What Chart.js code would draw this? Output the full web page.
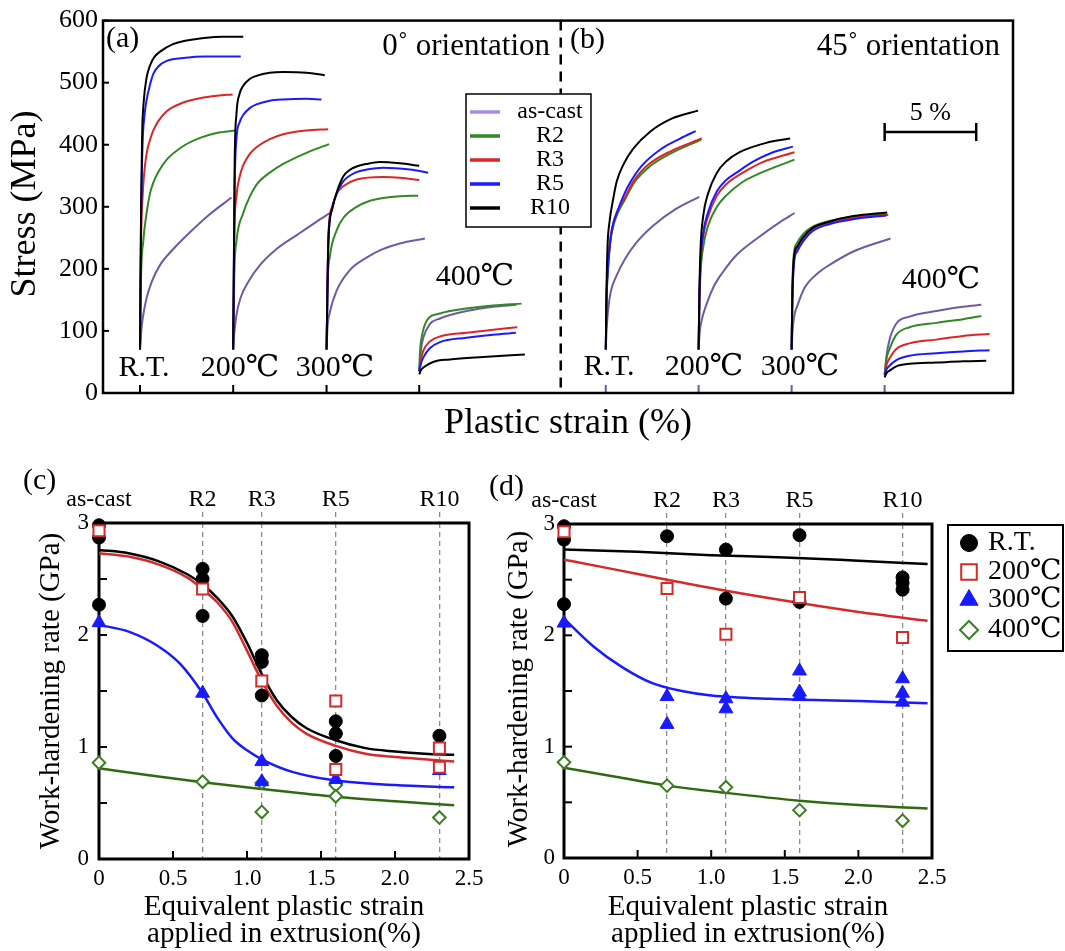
<!DOCTYPE html>
<html><head><meta charset="utf-8">
<script src="https://cdn.jsdelivr.net/npm/chart.js@4.4.0/dist/chart.umd.min.js"></script>
<style>
html,body{margin:0;padding:0;background:#fff;}
body{width:1065px;height:951px;position:relative;overflow:hidden;}
canvas{position:absolute;}
</style></head><body>
<canvas id="top" width="1065" height="450" style="left:0;top:0"></canvas>
<canvas id="cpanel" width="490" height="491" style="left:0;top:460px"></canvas>
<canvas id="dpanel" width="585" height="491" style="left:480px;top:460px"></canvas>
<script>
const SERIF = '"Liberation Serif","DejaVu Serif","Noto Sans CJK JP",serif';

// ---------- top panel (a)/(b): stress-strain ----------
const materials = ['as-cast','R2','R3','R5','R10'];
const tempLabels = ['R.T.','200℃','300℃','400℃'];
const orientationLabels = ['0˚ orientation','45˚ orientation'];
const panelLabelsTop = ['(a)','(b)'];
const segOffset0 = [2.02, 7.11, 12.21, 17.27];
const segOffset45 = [27.46, 32.53, 37.61, 42.69];
const separatorStrain = [25.0];
const scaleBarStrain = [42.69, 47.69];
const scaleBarLabel = '5 %';

// (a) 0° orientation  [strain %, stress MPa]
const a_RT_asCast = [[0,70],[0.04,84],[0.07,100],[0.18,126],[0.36,153],[0.64,179],[1.09,206],[1.82,232],[2.73,259],[3.73,286],[5.0,315]];
const a_RT_R2 = [[0,70],[0.05,180],[0.18,245],[0.36,290],[0.55,322],[0.73,339],[1.0,356],[1.46,376],[2.37,398],[3.28,411],[4.18,419],[5.22,423]];
const a_RT_R3 = [[0,70],[0.05,230],[0.15,320],[0.36,385],[0.55,408],[0.73,423],[1.0,438],[1.46,454],[2.37,468],[3.28,475],[4.2,479],[5.06,481]];
const a_RT_R5 = [[0,70],[0.06,280],[0.14,400],[0.25,448],[0.36,472],[0.55,497],[0.73,514],[1.0,526],[1.46,535],[2.5,540],[3.5,542],[5.5,542]];
const a_RT_R10 = [[0,70],[0.06,300],[0.12,420],[0.2,468],[0.36,508],[0.55,528],[0.8,542],[1.1,550],[1.8,562],[2.4,567],[3.5,572],[4.5,574],[5.64,574]];

const a_200_asCast = [[0,70],[0.04,90],[0.18,126],[0.4,153],[0.82,179],[1.46,206],[2.37,232],[3.55,256],[4.5,275],[5.28,290]];
const a_200_R2 = [[0,70],[0.06,190],[0.18,245],[0.55,290],[0.9,316],[1.36,339],[2.0,355],[2.73,369],[4.0,387],[5.24,401]];
const a_200_R3 = [[0,70],[0.06,250],[0.18,318],[0.35,348],[0.55,367],[0.9,385],[1.27,396],[2.0,409],[2.73,417],[4.0,423],[5.19,425]];
const a_200_R5 = [[0,70],[0.08,330],[0.18,410],[0.35,436],[0.55,448],[0.9,459],[1.27,465],[2.0,471],[2.73,473],[4.0,474],[4.82,473]];
const a_200_R10 = [[0,70],[0.08,370],[0.18,450],[0.35,482],[0.55,495],[0.9,506],[1.27,511],[2.0,516],[2.73,517],[4.0,516],[5.0,512]];

const a_300_asCast = [[0,70],[0.05,105],[0.18,130],[0.55,165],[1.27,198],[2.18,218],[3.0,231],[4.0,241],[5.37,249]];
const a_300_R2 = [[0,70],[0.05,170],[0.18,220],[0.55,262],[0.91,282],[1.64,300],[2.3,309],[3.09,314],[4.0,317],[5.0,318]];
const a_300_R3 = [[0,70],[0.1,255],[0.3,300],[0.55,321],[0.91,333],[1.64,344],[3.09,348],[4.0,347],[5.06,343]];
const a_300_R5 = [[0,70],[0.1,245],[0.3,296],[0.55,321],[0.91,341],[1.64,356],[2.2,360],[3.09,363],[4.55,360],[5.55,355]];
const a_300_R10 = [[0,70],[0.1,245],[0.3,296],[0.55,323],[0.91,349],[1.3,360],[1.64,365],[2.18,369],[2.9,372],[4.0,370],[5.06,366]];

const a_400_asCast = [[0,35],[0.1,70],[0.22,89],[0.58,111],[1.13,120],[2.58,132],[4.04,139],[5.31,142]];
const a_400_R2 = [[0,35],[0.05,70],[0.13,89],[0.4,116],[1.13,128],[2.58,136],[4.04,141],[5.59,144]];
const a_400_R3 = [[0,35],[0.1,55],[0.22,68],[0.58,83],[1.13,91],[2.58,97],[4.04,102],[5.35,106]];
const a_400_R5 = [[0,35],[0.1,48],[0.22,57],[0.58,72],[1.13,82],[2.58,89],[4.04,94],[5.28,97]];
const a_400_R10 = [[0,30],[0.1,37],[0.22,41],[0.76,50],[1.67,54],[3.49,58],[5.77,62]];

// (b) 45° orientation
const b_RT_asCast = [[0,72],[0.05,105],[0.14,137],[0.27,163],[0.6,190],[1.05,216],[1.69,243],[2.6,270],[3.79,296],[5.1,316]];
const b_RT_R2 = [[0,70],[0.04,145],[0.1,192],[0.24,242],[0.5,278],[1.07,313],[1.55,339],[2.4,365],[3.55,386],[5.2,408]];
const b_RT_R3 = [[0,70],[0.04,155],[0.1,200],[0.24,248],[0.5,283],[1.05,315],[1.51,341],[2.33,368],[3.51,389],[5.24,410]];
const b_RT_R5 = [[0,70],[0.04,150],[0.1,190],[0.24,243],[0.38,270],[0.64,293],[1.0,320],[1.33,339],[1.96,366],[3.06,394],[4.06,410],[4.91,422]];
const b_RT_R10 = [[0,70],[0.04,170],[0.1,240],[0.2,275],[0.42,315],[0.6,341],[0.96,368],[1.51,394],[2.42,421],[3.6,442],[5.04,455]];

const b_200_asCast = [[0,70],[0.05,95],[0.15,115],[0.42,142],[0.8,170],[1.33,195],[2.06,222],[3.15,248],[4.42,275],[5.24,290]];
const b_200_R2 = [[0,70],[0.04,135],[0.1,190],[0.25,235],[0.5,268],[1.0,300],[1.5,318],[2.4,340],[3.42,355],[5.24,376]];
const b_200_R3 = [[0,70],[0.04,145],[0.1,205],[0.25,252],[0.5,283],[1.0,318],[1.5,336],[2.42,355],[3.5,372],[5.24,388]];
const b_200_R5 = [[0,70],[0.04,150],[0.1,210],[0.25,258],[0.5,290],[1.0,325],[1.5,343],[2.07,355],[3.0,373],[4.0,387],[5.15,397]];
const b_200_R10 = [[0,70],[0.04,160],[0.1,230],[0.25,285],[0.5,320],[1.0,355],[1.5,373],[2.24,388],[3.69,403],[5.0,410]];

const b_300_asCast = [[0,70],[0.05,100],[0.15,125],[0.33,142],[0.7,169],[1.51,195],[2.05,206],[3.37,228],[5.4,249]];
const b_300_R2 = [[0,70],[0.04,170],[0.14,228],[0.3,242],[0.6,255],[1.15,268],[2.05,277],[3.37,284],[5.18,288]];
const b_300_R3 = [[0,70],[0.04,155],[0.14,218],[0.3,233],[0.6,247],[1.15,264],[2.05,274],[3.37,282],[5.28,287]];
const b_300_R5 = [[0,70],[0.04,150],[0.14,212],[0.3,228],[0.6,243],[1.15,261],[2.05,272],[3.37,280],[5.18,286]];
const b_300_R10 = [[0,70],[0.04,160],[0.14,222],[0.3,236],[0.6,250],[1.15,266],[2.05,276],[3.37,285],[5.22,291]];

const b_400_asCast = [[0,30],[0.1,60],[0.27,86],[0.64,112],[1.36,123],[2.82,132],[4.28,139],[5.28,142]];
const b_400_R2 = [[0,30],[0.1,55],[0.27,71],[0.64,94],[1.36,106],[2.82,113],[4.28,119],[5.28,124]];
const b_400_R3 = [[0,30],[0.1,45],[0.27,56],[0.64,71],[1.36,80],[2.82,86],[4.28,92],[5.73,95]];
const b_400_R5 = [[0,28],[0.1,38],[0.27,44],[0.64,53],[1.36,60],[2.82,64],[4.28,67],[5.73,69]];
const b_400_R10 = [[0,25],[0.1,32],[0.27,36],[0.64,43],[1.36,47],[2.82,49],[4.28,51],[5.55,52]];

// ---------- bottom panels (c)/(d): work-hardening rate ----------
const extrusionStrain = [0, 0.7, 1.1, 1.6, 2.3];
const extrusionLabels = ['as-cast','R2','R3','R5','R10'];
const strainTickLabels = ['0','0.5','1.0','1.5','2.0','2.5'];
const rateTickLabels = ['0','1','2','3'];
const hardTemps = ['R.T.','200℃','300℃','400℃'];

const c_RT = [[0,2.98],[0,2.87],[0,2.27],[0.7,2.59],[0.7,2.50],[0.7,2.17],[1.1,1.82],[1.1,1.76],[1.1,1.46],[1.6,1.23],[1.6,1.12],[1.6,0.92],[2.3,1.10]];
const c_200 = [[0,2.93],[0.7,2.41],[1.1,1.59],[1.6,1.41],[1.6,0.80],[2.3,0.99],[2.3,0.82]];
const c_300 = [[0,2.11],[0.7,1.48],[1.1,0.87],[1.1,0.69],[1.6,1.15],[1.6,0.71],[2.3,0.79]];
const c_400 = [[0,0.86],[0.7,0.69],[1.1,0.68],[1.1,0.42],[1.6,0.66],[1.6,0.56],[2.3,0.37]];
const c_fitRT = [[0,2.76],[0.2,2.73],[0.4,2.66],[0.6,2.54],[0.7,2.45],[0.8,2.33],[0.9,2.17],[1.0,1.93],[1.1,1.65],[1.2,1.42],[1.3,1.27],[1.4,1.17],[1.6,1.06],[1.8,0.99],[2.0,0.96],[2.2,0.94],[2.4,0.93]];
const c_fit200 = [[0,2.73],[0.2,2.70],[0.4,2.63],[0.6,2.51],[0.7,2.41],[0.8,2.29],[0.9,2.12],[1.0,1.86],[1.1,1.59],[1.2,1.37],[1.3,1.22],[1.4,1.12],[1.6,1.01],[1.8,0.94],[2.0,0.91],[2.2,0.89],[2.4,0.87]];
const c_fit300 = [[0,2.09],[0.2,2.03],[0.4,1.90],[0.55,1.74],[0.7,1.48],[0.8,1.26],[0.9,1.08],[1.0,0.97],[1.1,0.89],[1.3,0.78],[1.6,0.70],[2.0,0.66],[2.4,0.64]];
const c_fit400 = [[0,0.81],[0.35,0.745],[0.7,0.685],[1.1,0.625],[1.6,0.555],[2.0,0.515],[2.4,0.48]];

const d_RT = [[0,2.98],[0,2.86],[0,2.28],[0.7,2.89],[1.1,2.77],[1.1,2.33],[1.6,2.90],[1.6,2.30],[2.3,2.52],[2.3,2.47],[2.3,2.41]];
const d_200 = [[0,2.93],[0.7,2.42],[1.1,2.01],[1.6,2.34],[2.3,1.98]];
const d_300 = [[0,2.11],[0.7,1.45],[0.7,1.20],[1.1,1.43],[1.1,1.34],[1.6,1.68],[1.6,1.49],[1.6,1.45],[2.3,1.61],[2.3,1.48],[2.3,1.40]];
const d_400 = [[0,0.86],[0.7,0.65],[1.1,0.635],[1.6,0.43],[2.3,0.335]];
const d_fitRT = [[0,2.77],[0.5,2.75],[1.0,2.72],[1.5,2.70],[2.0,2.67],[2.47,2.64]];
const d_fit200 = [[0,2.68],[0.35,2.59],[0.7,2.50],[1.1,2.40],[1.6,2.29],[2.0,2.21],[2.47,2.13]];
const d_fit300 = [[0,2.15],[0.2,1.90],[0.4,1.71],[0.6,1.57],[0.8,1.50],[1.0,1.46],[1.4,1.43],[2.0,1.41],[2.47,1.39]];
const d_fit400 = [[0,0.81],[0.35,0.73],[0.7,0.65],[1.1,0.585],[1.6,0.515],[2.0,0.475],[2.47,0.445]];

// ---------- styles ----------
const matColors = ['#6e5aa8','#2f8a22','#dc2626','#1a1aff','#000000'];
const matLegendColors = ['#a98be6','#2f8a22','#dc2626','#1a1aff','#000000'];

function txt(ctx, s, x, y, size, align, baseline) {
  ctx.font = size + 'px ' + SERIF;
  ctx.fillStyle = '#000';
  ctx.textAlign = align || 'center';
  ctx.textBaseline = baseline || 'middle';
  ctx.fillText(s, x, y);
}

function segDatasets(groups, offsets) {
  const out = [];
  groups.forEach((grp, t) => grp.forEach((pts, m) => out.push({
    type: 'line',
    label: materials[m] + ' ' + tempLabels[t],
    data: pts.map(p => ({x: offsets[t] + p[0], y: p[1]})),
    borderColor: matColors[m], borderWidth: 2, pointRadius: 0, fill: false,
    cubicInterpolationMode: 'monotone', order: 4 - m
  })));
  return out;
}

const groups0 = [
  [a_RT_asCast, a_RT_R2, a_RT_R3, a_RT_R5, a_RT_R10],
  [a_200_asCast, a_200_R2, a_200_R3, a_200_R5, a_200_R10],
  [a_300_asCast, a_300_R2, a_300_R3, a_300_R5, a_300_R10],
  [a_400_asCast, a_400_R2, a_400_R3, a_400_R5, a_400_R10]
];
const groups45 = [
  [b_RT_asCast, b_RT_R2, b_RT_R3, b_RT_R5, b_RT_R10],
  [b_200_asCast, b_200_R2, b_200_R3, b_200_R5, b_200_R10],
  [b_300_asCast, b_300_R2, b_300_R3, b_300_R5, b_300_R10],
  [b_400_asCast, b_400_R2, b_400_R3, b_400_R5, b_400_R10]
];

const topDecor = {
  id: 'topDecor',
  afterDraw(chart) {
    const ctx = chart.ctx, a = chart.chartArea, xs = chart.scales.x, ys = chart.scales.y;
    ctx.save();
    const sx = xs.getPixelForValue(separatorStrain[0]);
    ctx.strokeStyle = '#000'; ctx.lineWidth = 2.5; ctx.setLineDash([10, 7]);
    ctx.beginPath(); ctx.moveTo(sx, a.top); ctx.lineTo(sx, a.bottom); ctx.stroke();
    ctx.setLineDash([]);
    ctx.lineWidth = 2;
    ys.ticks.forEach(t => {
      const py = ys.getPixelForValue(t.value);
      ctx.beginPath(); ctx.moveTo(a.left, py); ctx.lineTo(a.left + 6, py); ctx.stroke();
    });
    segOffset0.forEach(o => { const px = xs.getPixelForValue(o); ctx.strokeStyle = '#000';
      ctx.beginPath(); ctx.moveTo(px, a.bottom); ctx.lineTo(px, a.bottom - 8); ctx.stroke(); });
    segOffset45.forEach(o => { const px = xs.getPixelForValue(o); ctx.strokeStyle = matColors[0];
      ctx.beginPath(); ctx.moveTo(px, a.bottom); ctx.lineTo(px, a.bottom - 8); ctx.stroke(); });
    ctx.strokeStyle = '#000'; ctx.lineWidth = 2.5;
    ctx.strokeRect(a.left, a.top, a.right - a.left, a.bottom - a.top);
    txt(ctx, panelLabelsTop[0], 106, 39, 30, 'left');
    txt(ctx, orientationLabels[0], 550, 47, 31, 'right');
    txt(ctx, panelLabelsTop[1], 570, 40, 30, 'left');
    txt(ctx, orientationLabels[1], 1000, 47, 31, 'right');
    const tPos0 = [[144,368],[240,368],[335,368],[475,277]];
    const tPos45 = [[609,367],[704,367],[800,367],[941,280]];
    tempLabels.forEach((s, i) => { txt(ctx, s, tPos0[i][0], tPos0[i][1], 30); txt(ctx, s, tPos45[i][0], tPos45[i][1], 30); });
    txt(ctx, 'Plastic strain (%)', 568, 424, 36);
    ctx.save(); ctx.translate(26, 204); ctx.rotate(-Math.PI / 2);
    txt(ctx, 'Stress (MPa)', 0, 0, 36); ctx.restore();
    ctx.fillStyle = '#fff'; ctx.fillRect(466, 94, 125, 133);
    ctx.strokeStyle = '#000'; ctx.lineWidth = 1.5; ctx.strokeRect(466, 94, 125, 133);
    const rows = [112, 136, 160, 184, 208];
    materials.forEach((m, i) => {
      ctx.strokeStyle = matLegendColors[i]; ctx.lineWidth = 3.5;
      ctx.beginPath(); ctx.moveTo(470, rows[i]); ctx.lineTo(500, rows[i]); ctx.stroke();
      txt(ctx, m, 550, rows[i], 24);
    });
    const b0 = xs.getPixelForValue(scaleBarStrain[0]), b1 = xs.getPixelForValue(scaleBarStrain[1]);
    ctx.strokeStyle = '#000'; ctx.lineWidth = 2.5;
    ctx.beginPath(); ctx.moveTo(b0, 132); ctx.lineTo(b1, 132);
    ctx.moveTo(b0, 123); ctx.lineTo(b0, 141); ctx.moveTo(b1, 123); ctx.lineTo(b1, 141); ctx.stroke();
    txt(ctx, scaleBarLabel, (b0 + b1) / 2, 113, 26);
    ctx.restore();
  }
};

new Chart(document.getElementById('top'), {
  type: 'line',
  data: {datasets: segDatasets(groups0, segOffset0).concat(segDatasets(groups45, segOffset45))},
  options: {
    responsive: false, animation: false, devicePixelRatio: 1, events: [],
    layout: {padding: {top: 16, right: 52, bottom: 57, left: 0}},
    plugins: {legend: {display: false}, tooltip: {enabled: false}},
    scales: {
      x: {type: 'linear', min: 0, max: 49.7, display: false},
      y: {min: 0, max: 600,
          ticks: {stepSize: 100, color: '#000', padding: 5, font: {family: SERIF, size: 26}, callback: v => String(v)},
          grid: {display: false, drawTicks: false}, border: {display: false},
          afterFit(s) { s.width = 103; }}
    }
  },
  plugins: [topDecor]
});

// ---------- bottom charts ----------
const markerStyles = [
  {ps: 'circle', r: 6.5, bg: '#000', bc: '#000', bw: 1, order: 1},
  {ps: 'rect', r: 7.8, bg: '#fff', bc: '#d42a2a', bw: 2, order: 0},
  {ps: 'triangle', r: 8, bg: '#1a1aff', bc: '#1a1aff', bw: 1, order: 2},
  {ps: 'rectRot', r: 6.3, bg: '#fff', bc: '#3b7f22', bw: 2, order: 3}
];
const fitColors = ['#000000', '#d42a2a', '#1a1aff', '#2f6a12'];

function drawMarker(ctx, st, x, y, r) {
  ctx.fillStyle = st.bg; ctx.strokeStyle = st.bc; ctx.lineWidth = st.bw;
  if (Chart.helpers && Chart.helpers.drawPoint) {
    Chart.helpers.drawPoint(ctx, {pointStyle: st.ps, radius: r, rotation: 0, borderWidth: st.bw}, x, y);
  }
}

function hardChart(id, cfg) {
  const datasets = [];
  cfg.pts.forEach((arr, i) => {
    const st = markerStyles[i];
    datasets.push({type: 'scatter', label: hardTemps[i], data: arr.map(p => ({x: p[0], y: p[1]})),
      pointStyle: st.ps, pointRadius: st.r, pointBackgroundColor: st.bg, pointBorderColor: st.bc,
      pointBorderWidth: st.bw, showLine: false, clip: false, order: st.order});
  });
  cfg.fits.forEach((arr, i) => {
    datasets.push({type: 'line', label: hardTemps[i] + ' fit', data: arr.map(p => ({x: p[0], y: p[1]})),
      borderColor: fitColors[i], borderWidth: 2.5, pointRadius: 0, fill: false,
      cubicInterpolationMode: 'monotone', order: 10 + i});
  });
  const gridCol = c => (c.index === 0 ? 'rgba(0,0,0,0)' : '#8c8c8c');
  const decor = {
    id: 'decor_' + id,
    beforeDatasetsDraw(chart) {
      const ctx = chart.ctx, a = chart.chartArea, xs = chart.scales.x, ys = chart.scales.y;
      ctx.save();
      ctx.strokeStyle = '#000'; ctx.lineWidth = 2;
      ys.ticks.forEach(t => { if (t.value > 0 && t.value < 3) { const py = ys.getPixelForValue(t.value);
        ctx.beginPath(); ctx.moveTo(a.left, py); ctx.lineTo(a.left + 8, py); ctx.stroke(); } });
      xs.ticks.forEach(t => { if (t.value > 0 && t.value < 2.5) { const px = xs.getPixelForValue(t.value);
        ctx.beginPath(); ctx.moveTo(px, a.bottom); ctx.lineTo(px, a.bottom - 8); ctx.stroke(); } });
      ctx.lineWidth = 3;
      ctx.strokeRect(a.left, a.top, a.right - a.left, a.bottom - a.top);
      ctx.restore();
    },
    afterDraw(chart) {
      const ctx = chart.ctx, a = chart.chartArea;
      ctx.save();
      txt(ctx, cfg.panel, cfg.panelPos[0], cfg.panelPos[1], 30, 'left');
      ctx.save(); ctx.translate(cfg.ytitle[0], cfg.ytitle[1]); ctx.rotate(-Math.PI / 2);
      txt(ctx, 'Work-hardening rate (GPa)', 0, 0, 29); ctx.restore();
      const cx = (a.left + a.right) / 2;
      txt(ctx, 'Equivalent plastic strain', cx, 447, 29);
      txt(ctx, 'applied in extrusion(%)', cx, 474, 29);
      if (cfg.legend) {
        const L = cfg.legend;
        ctx.fillStyle = '#fff'; ctx.fillRect(L.x, L.y, L.w, L.h);
        ctx.strokeStyle = '#000'; ctx.lineWidth = 2; ctx.strokeRect(L.x, L.y, L.w, L.h);
        const radii = [8.5, 11, 10.5, 9];
        hardTemps.forEach((s, i) => {
          drawMarker(ctx, markerStyles[i], L.mx, L.rows[i], radii[i]);
          txt(ctx, s, L.tx, L.rows[i], 28, 'left');
        });
      }
      ctx.restore();
    }
  };
  new Chart(document.getElementById(id), {
    type: 'scatter',
    data: {datasets},
    options: {
      responsive: false, animation: false, devicePixelRatio: 1, events: [],
      layout: {padding: {top: 0, right: cfg.rightPad, bottom: 0, left: 0}},
      plugins: {legend: {display: false}, tooltip: {enabled: false}},
      scales: {
        x: {type: 'linear', position: 'bottom', min: 0, max: 2.5,
            ticks: {stepSize: 0.5, autoSkip: false, maxRotation: 0, padding: 6, color: '#000',
                    font: {family: SERIF, size: 23}, callback: v => strainTickLabels[Math.round(v * 2)]},
            grid: {display: false, drawTicks: false}, border: {display: false},
            afterFit(s) { s.height = cfg.xh; }},
        x2: {type: 'linear', position: 'top', min: 0, max: 2.5,
            afterBuildTicks(s) { s.ticks = extrusionStrain.map(v => ({value: v})); },
            ticks: {autoSkip: false, maxRotation: 0, padding: 0, color: '#000',
                    font: {family: SERIF, size: 24, lineHeight: 1}, callback: (v, i) => extrusionLabels[i]},
            grid: {display: true, drawOnChartArea: true, drawTicks: true, tickLength: 11,
                   color: gridCol, tickColor: gridCol, lineWidth: 1.3, tickWidth: 1.3, tickBorderDash: [5, 4]},
            border: {display: false, dash: [5, 4]},
            afterFit(s) { s.height = cfg.x2h; }},
        y: {min: 0, max: 3,
            ticks: {stepSize: 0.5, autoSkip: false, padding: cfg.tickPad, color: '#000',
                    font: {family: SERIF, size: 23}, callback: v => (Number.isInteger(v) ? rateTickLabels[v] : '')},
            grid: {display: false, drawTicks: false}, border: {display: false},
            afterFit(s) { s.width = cfg.yw; }}
      }
    },
    plugins: [decor]
  });
}

hardChart('cpanel', {
  pts: [c_RT, c_200, c_300, c_400], fits: [c_fitRT, c_fit200, c_fit300, c_fit400],
  yw: 99, xh: 92, x2h: 63, rightPad: 21, tickPad: 10,
  panel: '(c)', panelPos: [23, 21], ytitle: [51, 231], legend: null
});
hardChart('dpanel', {
  pts: [d_RT, d_200, d_300, d_400], fits: [d_fitRT, d_fit200, d_fit300, d_fit400],
  yw: 84, xh: 93, x2h: 64, rightPad: 133, tickPad: 9,
  panel: '(d)', panelPos: [9, 27], ytitle: [39, 229],
  legend: {x: 468, y: 65, w: 115, h: 126, mx: 489, tx: 508, rows: [83, 112, 140, 170]}
});
</script>
</body></html>
